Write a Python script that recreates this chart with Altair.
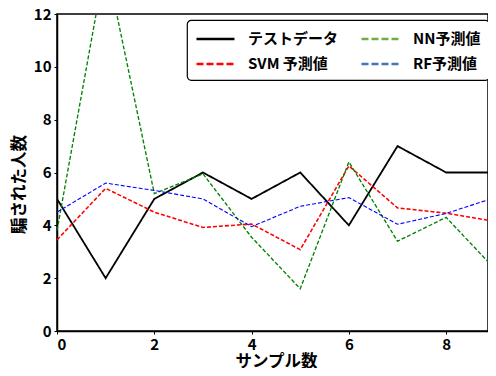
import altair as alt
import pandas as pd

samples = list(range(10))
test_vals = [5, 2, 5, 6, 5, 6, 4, 7, 6, 6]
nn_vals = [3.8, 14.0, 5.2, 5.95, 3.55, 1.6, 6.4, 3.4, 4.3, 2.35]
svm_vals = [3.45, 5.4, 4.5, 3.92, 4.05, 3.08, 6.25, 4.66, 4.46, 4.15]
rf_vals = [4.5, 5.6, 5.32, 5.0, 3.95, 4.72, 5.05, 4.04, 4.45, 5.05]

# order chosen so the 2-column legend reads: row1 テストデータ / NN, row2 SVM / RF
series_names = ["テストデータ", "SVM 予測値", "NN予測値", "RF予測値"]
line_colors = ["black", "red", "green", "blue"]
legend_colors = ["black", "red", "#70AD47", "#4472C4"]
x_ticks = [0, 2, 4, 6, 8]
y_ticks = [0, 2, 4, 6, 8, 10, 12]
x_view_max = 8.86  # the reference's right edge is cut by the window

rows = []
for name, vals in zip(series_names, [test_vals, svm_vals, nn_vals, rf_vals]):
    for s, v in zip(samples, vals):
        rows.append({"sample": s, "value": v, "series": name})
df = pd.DataFrame(rows)

FONT = "Noto Sans CJK JP"

x_enc = alt.X(
    "sample:Q",
    scale=alt.Scale(domain=[0, x_view_max], nice=False, zero=False),
    axis=alt.Axis(
        values=x_ticks,
        title="サンプル数",
        labelFlush=True,
        titleX=219,
        titleY=35,
        titleAlign="center",
        titleBaseline="alphabetic",
    ),
)
y_enc = alt.Y(
    "value:Q",
    scale=alt.Scale(domain=[0, 12], nice=False),
    axis=alt.Axis(
        values=y_ticks,
        title="騙された人数",
        titleX=-38,
        titleY=170,
        titleAngle=-90,
        titleAlign="center",
        titleBaseline="middle",
    ),
)

lines = alt.Chart(df).mark_line(clip=True).encode(
    x=x_enc,
    y=y_enc,
    color=alt.Color("series:N", scale=alt.Scale(domain=series_names, range=line_colors), legend=None),
    strokeDash=alt.StrokeDash(
        "series:N",
        scale=alt.Scale(domain=series_names, range=[[1, 0], [4, 2], [4, 2], [4, 2]]),
        legend=None,
    ),
    strokeWidth=alt.StrokeWidth(
        "series:N",
        scale=alt.Scale(domain=series_names, range=[1.8, 1.1, 1.1, 1.1]),
        legend=None,
    ),
)

leg = alt.Legend(
    title=None,
    orient="none",
    legendX=130,
    legendY=6,
    columns=2,
    symbolType="M-1,0H3",
    symbolSize=361,
    symbolStrokeWidth=2.5,
    labelFont=FONT,
    labelFontSize=15,
    labelFontWeight="bold",
    labelColor="black",
    padding=8,
    fillColor="white",
    strokeColor="black",
    cornerRadius=4,
    columnPadding=17,
    rowPadding=6,
    labelOffset=31,
)

legend_layer = alt.Chart(df).transform_filter("false").mark_line().encode(
    x=x_enc,
    y=y_enc,
    color=alt.Color("series:N", scale=alt.Scale(domain=series_names, range=legend_colors), legend=leg),
    strokeDash=alt.StrokeDash(
        "series:N",
        scale=alt.Scale(domain=series_names, range=[[1, 0], [7, 3], [7, 3], [7, 3]]),
        legend=leg,
    ),
)

chart = (
    alt.layer(lines, legend_layer)
    .resolve_scale(color="independent", strokeDash="independent")
    .properties(
        width=431,
        height=317,
        autosize=alt.AutoSizeParams(type="none"),
        padding={"left": 49, "top": 6, "right": 0, "bottom": 37},
    )
    .configure_view(stroke="black", strokeWidth=1.5)
    .configure_axis(
        grid=False,
        labelFont=FONT,
        labelFontSize=15,
        labelFontWeight="bold",
        labelColor="black",
        titleFont=FONT,
        titleFontSize=16.5,
        titleFontWeight="bold",
        titleColor="black",
        domainColor="black",
        domainWidth=1.5,
        tickColor="black",
        tickSize=3,
        labelPadding=3,
    )
    .configure_legend(strokeWidth=1.2)
)

chart.save("out.html", embed_options={"renderer": "svg", "actions": False})
